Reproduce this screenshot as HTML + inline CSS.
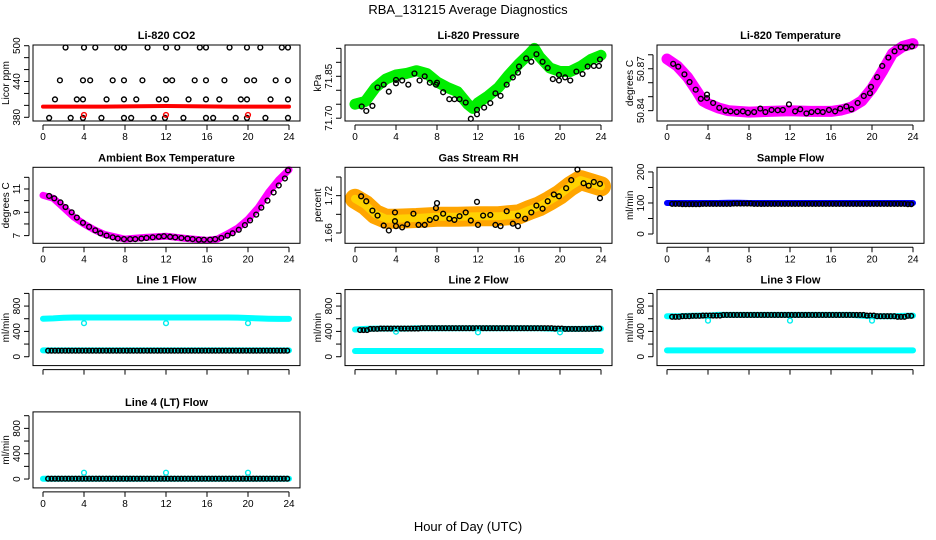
<!DOCTYPE html>
<html><head><meta charset="utf-8">
<style>
html,body{margin:0;padding:0;background:#fff;}
svg{display:block;font-family:"Liberation Sans",sans-serif;}
</style></head>
<body>
<svg id="chart" width="936" height="540" viewBox="0 0 936 540" xmlns="http://www.w3.org/2000/svg">
<text x="468" y="14" font-size="13" text-anchor="middle">RBA_131215  Average Diagnostics</text>
<text x="468" y="531" font-size="13" text-anchor="middle">Hour of Day (UTC)</text>
</svg>
<script>
// ---- data ----
const X_TICKS = [0,4,8,12,16,20,24];
const CO2_H_497 = [2.2,4.0,5.1,7.25,7.9,10.2,12.0,13.1,15.3,15.9,18.2,19.9,21.2,23.3,23.9];
const CO2_H_442 = [1.65,3.9,4.6,6.8,7.9,9.7,12.0,12.6,14.8,15.9,17.7,19.9,20.6,22.7,23.9];
const CO2_H_410 = [1.17,3.3,3.9,6.2,7.9,9.1,11.3,12.0,14.2,15.9,17.2,19.3,19.9,22.2,23.9];
const CO2_H_379 = [0.6,2.7,3.9,5.7,7.9,8.6,10.8,11.9,13.7,15.9,16.6,18.8,19.9,21.7,23.9];
const CO2_LEVELS = [497,442,410,379];
const CO2_RED_H = [0,6,12,18,24];
const CO2_RED_V = [398,398,399,398,398];
const OUT_H = [4,12,20];
const CO2_OUT_V = [384,384,384];

const PR_H = [0,1,2,3,4,5,6,7,8,9,10,11,11.5,12,13,14,15,16,17,17.5,18,19,20,21,22,23,24];
const PR_V = [71.75,71.76,71.81,71.84,71.855,71.86,71.87,71.86,71.83,71.81,71.795,71.75,71.735,71.755,71.78,71.81,71.855,71.895,71.93,71.95,71.92,71.88,71.867,71.867,71.885,71.91,71.925];
const PR_BH = [0.65,1.1,1.7,2.2,2.8,3.3,4.0,4.0,4.6,5.2,5.8,6.3,6.8,7.3,7.9,8.0,8.6,9.2,9.7,10.2,10.8,11.3,11.9,11.9,12.6,13.2,13.7,14.2,14.8,15.4,15.9,16.0,16.7,17.2,17.7,18.3,18.8,19.3,19.9,19.9,20.5,21.0,21.6,22.2,22.7,23.3,23.8,23.9];
const PR_BV = [71.742,71.726,71.744,71.81,71.82,71.795,71.825,71.837,71.835,71.82,71.86,71.835,71.85,71.827,71.82,71.827,71.793,71.768,71.768,71.768,71.756,71.698,71.714,71.73,71.738,71.754,71.789,71.78,71.82,71.846,71.863,71.885,71.914,71.902,71.929,71.902,71.88,71.84,71.855,71.835,71.846,71.835,71.867,71.858,71.885,71.887,71.887,71.91];

const TE_H = [0,1,2,3,3.5,4,5,6,8,10,12,14,16,17,18,19,20,21,22,23,24];
const TE_V = [50.877,50.872,50.864,50.853,50.847,50.845,50.842,50.840,50.839,50.8395,50.84,50.8395,50.8395,50.8405,50.8425,50.847,50.856,50.868,50.881,50.886,50.888];
const TE_BH = [0.6,1.1,1.7,2.2,2.8,3.3,3.9,3.9,4.5,5.1,5.7,6.2,6.8,7.4,7.9,8.5,9.1,9.6,10.2,10.8,11.3,11.9,12.5,13.0,13.6,14.1,14.7,15.2,15.8,16.4,16.9,17.5,18.0,18.6,19.2,19.8,19.9,20.5,21.0,21.6,22.2,22.8,23.3,23.9];
const TE_BV = [50.8735,50.8715,50.866,50.8605,50.855,50.8485,50.849,50.8515,50.8455,50.842,50.840,50.8395,50.839,50.8395,50.8385,50.839,50.8415,50.839,50.8405,50.8403,50.8405,50.8445,50.8395,50.841,50.838,50.839,50.8395,50.839,50.8405,50.8395,50.8415,50.843,50.841,50.8455,50.8505,50.8525,50.857,50.864,50.872,50.878,50.8825,50.8855,50.885,50.886];

const AM_H = [0,1,2,3,4,5,6,8,10,12,14,16,17,18,19,20,21,22,23,24];
const AM_V = [10.46,10.2,9.4,8.6,8.0,7.5,7.1,6.7,6.85,6.95,6.75,6.6,6.7,7.15,7.65,8.4,9.4,10.7,11.8,12.65];
const AM_BH = [0.6,1.1,1.7,2.2,2.8,3.3,3.9,4.5,5.1,5.6,6.2,6.8,7.3,7.9,8.5,9.0,9.6,10.1,10.7,11.3,11.8,12.4,12.9,13.5,14.1,14.6,15.2,15.7,16.3,16.8,17.4,18.0,18.5,19.1,19.7,20.2,20.8,21.3,21.9,22.5,23.0,23.6,23.9];
const AM_BV = [10.4,10.2,9.85,9.45,9.0,8.55,8.1,7.75,7.45,7.2,7.0,6.85,6.75,6.7,6.7,6.7,6.75,6.8,6.85,6.9,6.95,6.9,6.85,6.8,6.75,6.7,6.65,6.65,6.65,6.7,6.8,7.0,7.2,7.5,7.9,8.3,8.8,9.4,10.0,10.7,11.3,11.9,12.6];

const RH_H = [0,1,2,3,4,6,8,10,12,14,16,17,18,19,20,21,22,23,24];
const RH_V = [1.715,1.705,1.69,1.683,1.683,1.684,1.686,1.686,1.687,1.687,1.69,1.697,1.703,1.712,1.722,1.735,1.745,1.74,1.735];
const RH_BH = [0.6,1.1,1.7,2.2,2.8,3.3,3.9,3.9,4.0,4.6,5.1,5.7,6.2,6.8,7.3,7.9,8.0,7.9,8.6,9.2,9.7,10.2,10.8,11.3,11.9,12.0,12.5,13.2,13.7,14.2,14.8,15.4,15.9,15.9,16.6,17.2,17.7,18.3,18.8,19.4,19.9,20.6,21.1,21.7,22.3,22.8,23.3,23.9,23.9];
const RH_BV = [1.719,1.711,1.696,1.688,1.672,1.664,1.693,1.679,1.671,1.669,1.674,1.691,1.673,1.673,1.681,1.700,1.708,1.684,1.691,1.683,1.681,1.687,1.693,1.680,1.71,1.673,1.688,1.689,1.673,1.671,1.695,1.675,1.688,1.671,1.683,1.693,1.704,1.699,1.711,1.722,1.719,1.732,1.745,1.762,1.740,1.736,1.742,1.739,1.716];

const HOURS = [0,1,2,3,4,5,6,7,8,9,10,11,12,13,14,15,16,17,18,19,20,21,22,23,24];
const SF_BLUE = [100,100,100,100,100,100,101,101,100,100,100,100,100,100,100,100,100,100,100,100,100,100,100,100,100];
const SF_BLACK = [97,96,96,97,97,97,98,98,97,97,97,97,97,97,97,97,97,97,97,97,97,97,97,96,96];
const L1_UP = [600,605,615,620,620,620,620,620,620,620,620,620,620,620,620,620,620,620,620,618,612,605,600,598,598];
const L1_LOW = [100,100,100,100,100,100,100,100,100,100,100,100,100,100,100,100,100,100,100,100,100,100,100,100,100];
const L1_BLK = [95,95,95,95,95,95,95,95,95,95,95,95,95,95,95,95,95,95,95,95,95,95,95,95,95];
const L1_OUT = [530,530,530];
const L2_UP = [430,440,445,445,445,445,450,450,450,450,450,450,450,450,450,450,450,450,450,445,440,440,440,445,445];
const L2_LOW = [90,90,90,90,90,90,90,90,90,90,90,90,90,90,90,90,90,90,90,90,90,90,90,90,90];
const L2_BLK = [420,440,445,445,445,445,450,450,450,450,450,450,450,450,450,450,450,450,450,445,440,440,440,445,445];
const L2_OUT = [395,385,385];
const L3_UP = [640,640,645,650,650,660,660,660,660,660,660,660,660,660,660,660,660,660,660,650,640,640,640,645,650];
const L3_LOW = [100,100,100,100,100,100,100,100,100,100,100,100,100,100,100,100,100,100,100,100,100,100,100,100,100];
const L3_BLK = [630,640,645,650,650,660,660,660,660,660,660,660,660,660,660,660,660,660,660,650,640,640,630,645,650];
const L3_OUT = [570,570,570];
const L4_UP = [5,5,5,5,5,5,5,5,5,5,5,5,5,5,5,5,5,5,5,5,5,5,5,5,5];
const L4_BLK = [5,5,5,5,5,5,5,5,5,5,5,5,5,5,5,5,5,5,5,5,5,5,5,5,5];
const L4_OUT = [100,100,100];

// ---- drawing ----
const NS = "http://www.w3.org/2000/svg";
const svg = document.getElementById('chart');
function mk(tag, attrs, parent){
  const e = document.createElementNS(NS, tag);
  for (const k in attrs) e.setAttribute(k, attrs[k]);
  (parent||svg).appendChild(e);
  return e;
}
function panel(col, row, ylim, yticks, ylabels, title, ylab, showX, key){
  const L = 312*col + 33, R = 312*col + 300;
  const T = 45 + 122.3*row, B = T + 76;
  const g = mk('g', {});
  
  
  const X = h => 312*col + 43 + h*10.25;
  const Y = v => B - (v - ylim[0])/(ylim[1]-ylim[0])*76;
  const t = mk('text', {x:(L+R)/2, y:T-6, 'font-size':11, 'font-weight':'bold', 'text-anchor':'middle'}, g);
  t.textContent = title;
  
  
  const marks = mk('g', {}, g);
  
  
  const box = mk('rect', {x:L, y:T, width:R-L, height:B-T, fill:'none', stroke:'#000', 'stroke-width':1}, g);
  
  
  const xa = mk('g', {}, g);
  
  
  mk('line', {x1:X(0), x2:X(24), y1:B+4, y2:B+4, stroke:'#000'}, xa);
  X_TICKS.forEach(v => {
    mk('line', {x1:X(v), x2:X(v), y1:B+4, y2:B+9, stroke:'#000'}, xa);
    if (showX) { const tt = mk('text', {x:X(v), y:B+19, 'font-size':10, 'text-anchor':'middle'}, xa); tt.textContent = v; }
  });
  const ya = mk('g', {}, g);
  
  
  mk('line', {x1:L-4, x2:L-4, y1:Y(yticks[0]), y2:Y(yticks[yticks.length-1]), stroke:'#000'}, ya);
  yticks.forEach(v => mk('line', {x1:L-9, x2:L-4, y1:Y(v), y2:Y(v), stroke:'#000'}, ya));
  ylabels.forEach(p => {
    const tt = mk('text', {x:0, y:0, 'font-size':10, 'text-anchor':'middle', transform:`translate(${L-13},${Y(p[0])}) rotate(-90)`}, ya);
    tt.textContent = p[1];
  });
  const yl = mk('text', {x:0, y:0, 'font-size':10, 'text-anchor':'middle', transform:`translate(${L-24},${(T+B)/2}) rotate(-90)`}, g);
  yl.textContent = ylab;
  
  
  return {g:marks, X, Y};
}
function band(p, hs, vs, color, w, name){
  const pts = hs.map((h,i) => p.X(h).toFixed(1) + ',' + p.Y(vs[i]).toFixed(1)).join(' ');
  const e = mk('polyline', {points:pts, fill:'none', stroke:color, 'stroke-width':w, 'stroke-linejoin':'round', 'stroke-linecap':'round'}, p.g);
  
  
}
function pts(p, hs, vs, color, name){
  hs.forEach((h,i) => {
    const c = mk('circle', {cx:p.X(h), cy:p.Y(vs[i]), r:2.4, fill:'none', stroke:color, 'stroke-width':1.4}, p.g);
    
    
  });
}
function stepPts(p, vals, color, name, start){
  for (let i = 0; i < 24; i++) {
    [0, 0.33, 0.67].forEach(o => {
      const h = i + o + (start||0.5) - 0.5 + 0.5;
      if (h > 23.95) return;
      const c = mk('circle', {cx:p.X(h), cy:p.Y(vals[i]), r:2.3, fill:'none', stroke:color, 'stroke-width':1.5}, p.g);
      
      
    });
  }
}
const flowTicks = [0,200,400,600,800,1000];
const flowLabels = [[0,'0'],[400,'400'],[800,'800']];
const flowLim = [-140,1060];

// CO2
let p = panel(0,0,[373.8,501.2],[380,400,420,440,460,480,500],[[380,'380'],[440,'440'],[500,'500']],'Li-820 CO2','Licor ppm',true,'co2');
band(p, CO2_RED_H, CO2_RED_V, '#ff0000', 4, 'co2-red-series');
[CO2_H_497,CO2_H_442,CO2_H_410,CO2_H_379].forEach((hs,k) => pts(p, hs, hs.map(() => CO2_LEVELS[k]), '#000', 'co2-black-point'));
pts(p, OUT_H, CO2_OUT_V, '#ff0000', 'co2-red-point');

// Pressure
p = panel(1,0,[71.69,71.962],[71.70,71.75,71.80,71.85,71.90,71.95],[[71.70,'71.70'],[71.85,'71.85']],'Li-820 Pressure','kPa',true,'pressure');
band(p, PR_H, PR_V, '#00ee00', 11, 'pressure-green-band');
pts(p, PR_BH, PR_BV, '#000', 'pressure-black-point');

// Temperature
p = panel(2,0,[50.8326,50.887],[50.84,50.85,50.86,50.87,50.88],[[50.84,'50.84'],[50.87,'50.87']],'Li-820 Temperature','degrees C',true,'li820-temp');
band(p, TE_H, TE_V, '#ff00ff', 11, 'li820-temp-magenta-band');
pts(p, TE_BH, TE_BV, '#000', 'li820-temp-black-point');

// Ambient
p = panel(0,1,[6.34,12.86],[7,8,9,10,11,12],[[7,'7'],[9,'9'],[11,'11']],'Ambient Box Temperature','degrees C',true,'ambient-temp');
band(p, AM_H, AM_V, '#ff00ff', 7, 'ambient-magenta-band');
pts(p, AM_BH, AM_BV, '#000', 'ambient-black-point');

// RH
p = panel(1,1,[1.6434,1.7656],[1.66,1.69,1.72,1.75],[[1.66,'1.66'],[1.72,'1.72']],'Gas Stream RH','percent',true,'rh');
band(p, RH_H, RH_V, '#ffa500', 20, 'rh-orange-band');
band(p, RH_H, RH_V, '#ffd200', 8, 'rh-yellow-band');
pts(p, RH_BH, RH_BV, '#000', 'rh-black-point');

// Sample flow
p = panel(2,1,[-30,215],[0,50,100,150,200],[[0,'0'],[100,'100'],[200,'200']],'Sample Flow','ml/min',true,'sample-flow');
band(p, HOURS, SF_BLUE, '#0000ff', 6, 'sample-flow-blue-band');
stepPts(p, SF_BLACK, '#000', 'sample-flow-black-point');

// Line 1
p = panel(0,2,flowLim,flowTicks,flowLabels,'Line 1 Flow','ml/min',false,'line1');
band(p, HOURS, L1_UP, '#00ffff', 6, 'line1-upper-band');
band(p, HOURS, L1_LOW, '#00ffff', 6, 'line1-lower-band');
stepPts(p, L1_BLK, '#000', 'line1-black-point');
pts(p, OUT_H, L1_OUT, '#00eeee', 'line1-outlier');

// Line 2
p = panel(1,2,flowLim,flowTicks,flowLabels,'Line 2 Flow','ml/min',false,'line2');
band(p, HOURS, L2_UP, '#00ffff', 6, 'line2-upper-band');
band(p, HOURS, L2_LOW, '#00ffff', 6, 'line2-lower-band');
stepPts(p, L2_BLK, '#000', 'line2-black-point');
pts(p, OUT_H, L2_OUT, '#00eeee', 'line2-outlier');

// Line 3
p = panel(2,2,flowLim,flowTicks,flowLabels,'Line 3 Flow','ml/min',false,'line3');
band(p, HOURS, L3_UP, '#00ffff', 6, 'line3-upper-band');
band(p, HOURS, L3_LOW, '#00ffff', 6, 'line3-lower-band');
stepPts(p, L3_BLK, '#000', 'line3-black-point');
pts(p, OUT_H, L3_OUT, '#00eeee', 'line3-outlier');

// Line 4
p = panel(0,3,flowLim,flowTicks,flowLabels,'Line 4 (LT) Flow','ml/min',true,'line4');
band(p, HOURS, L4_UP, '#00ffff', 6, 'line4-band');
stepPts(p, L4_BLK, '#000', 'line4-black-point');
pts(p, OUT_H, L4_OUT, '#00eeee', 'line4-outlier');
</script>
</body></html>
